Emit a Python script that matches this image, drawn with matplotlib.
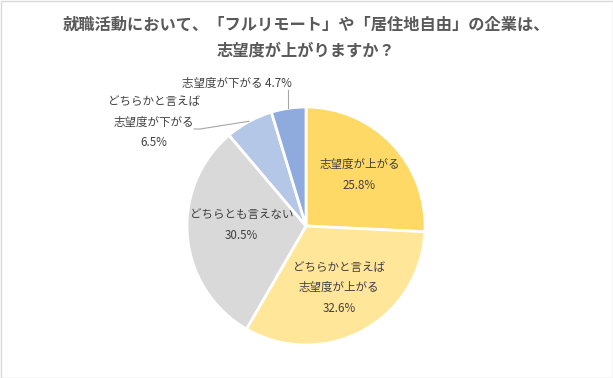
import matplotlib
matplotlib.use("Agg")
import matplotlib.pyplot as plt
from matplotlib.patches import Rectangle

plt.rcParams['font.family'] = ['Noto Sans CJK JP', 'DejaVu Sans']

title = "就職活動において、「フルリモート」や「居住地自由」の企業は、\n志望度が上がりますか？"
categories = ["志望度が上がる", "どちらかと言えば\n志望度が上がる", "どちらとも言えない",
              "どちらかと言えば\n志望度が下がる", "志望度が下がる"]
values = [25.8, 32.6, 30.5, 6.5, 4.7]
colors = ["#FFD966", "#FFE699", "#D9D9D9", "#B4C7E7", "#8FAADC"]

W, H = 613, 378
fig = plt.figure(figsize=(W/100, H/100), dpi=100)
fig.patch.set_facecolor("white")
fig.add_artist(Rectangle((0.5/W, 0.5/H), 1-1/W, 1-1/H, transform=fig.transFigure,
                         fill=False, edgecolor="#D9D9D9", linewidth=1))

cx, cy, r = 306, 226, 119
ax = fig.add_axes([(cx-r)/W, (H-cy-r)/H, 2*r/W, 2*r/H])
ax.pie(values, colors=colors, startangle=90, counterclock=False,
       wedgeprops=dict(edgecolor="white", linewidth=2))
ax.set_xlim(-1, 1); ax.set_ylim(-1, 1)
ax.set_aspect("equal")
ax.axis("off")

tc = "#404040"
fs = 8.3
ls = 1.75
ax.text(0.45, 0.43, f"{categories[0]}\n{values[0]}%", ha="center", va="center", fontsize=fs, color=tc, linespacing=ls)
ax.text(0.28, -0.52, f"{categories[1]}\n{values[1]}%", ha="center", va="center", fontsize=fs, color=tc, linespacing=ls)
ax.text(-0.54, 0.01, f"{categories[2]}\n{values[2]}%", ha="center", va="center", fontsize=fs, color=tc, linespacing=ls)
ax.text(-1.28, 0.87, f"{categories[3]}\n{values[3]}%", ha="center", va="center", fontsize=fs, color=tc, linespacing=ls)
ax.text(-0.58, 1.20, f"{categories[4]} {values[4]}%", ha="center", va="center", fontsize=fs, color=tc)

lc = "#A6A6A6"
ax.plot([-0.15, -0.15], [1.14, 0.99], color=lc, lw=0.8, clip_on=False)
ax.plot([-0.94, -0.89, -0.48], [0.815, 0.815, 0.88], color=lc, lw=0.8, clip_on=False)

fig.text(cx/W, 1-37.5/H, title, ha="center", va="center", fontsize=11.7, fontweight="bold",
         color="#595959", linespacing=1.8)

fig.savefig("out.png", dpi=100)
